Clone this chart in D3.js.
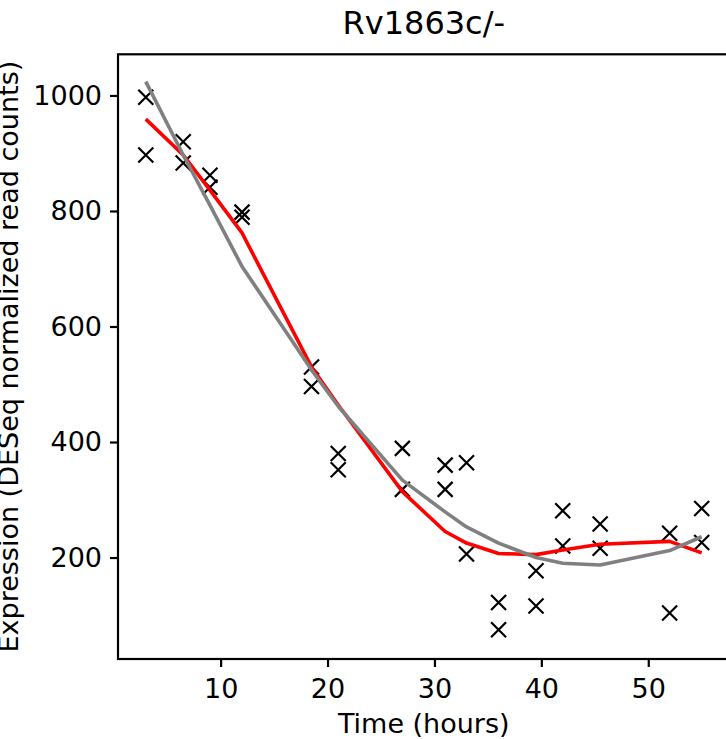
<!DOCTYPE html>
<html>
<head>
<meta charset="utf-8">
<script src="https://cdn.jsdelivr.net/npm/d3@7"></script>
<style>
  html, body { margin: 0; padding: 0; background: #fff; }
  svg { display: block; }
  text { font-family: "DejaVu Sans", sans-serif; fill: #000; }
</style>
</head>
<body>
<svg id="chart" width="726" height="739"></svg>
<script>
// ---- data ----
const times = [3, 6.5, 9, 12, 18.5, 21, 27, 31, 33, 36, 39.5, 42, 45.5, 52, 55];
const rep1  = [997, 920, 862, 798, 530, 380, 389, 360, 364, 122, 177, 281, 258, 242, 285];
const rep2  = [897, 883, 841, 789, 496, 352, 318, 318, 206, 75, 116, 220, 216, 104, 226];
const redFit  = [959, 897, 836, 762, 530, 464, 314, 245, 225, 207, 205, 213, 223, 228, 208];
const grayFit = [1024, 897, 810, 704, 525, 462, 334, 279, 253, 225, 200, 190, 187, 212, 236];
const xTicks = [10, 20, 30, 40, 50];
const yTicks = [200, 400, 600, 800, 1000];
const title = "Rv1863c/-";
const xLabel = "Time (hours)";
const yLabel = "Expression (DESeq normalized read counts)";

// ---- layout ----
const svg = d3.select("#chart");
const L = 118, R = 729.5, T = 54.3, B = 659;
const x = d3.scaleLinear().domain([0.4, 57.6]).range([L, R]);
const y = d3.scaleLinear().domain([24.3, 1071.3]).range([B, T]);

const points = [];
times.forEach((t, i) => {
  points.push({t: t, v: rep1[i]});
  points.push({t: t, v: rep2[i]});
});

// markers
const m = 7.5;
svg.append("g").selectAll("path.pt").data(points).enter().append("path")
  .attr("class", "pt")
  .attr("d", d => {
    const cx = x(d.t), cy = y(d.v);
    return `M${cx - m},${cy - m}L${cx + m},${cy + m}M${cx - m},${cy + m}L${cx + m},${cy - m}`;
  })
  .attr("stroke", "#000").attr("stroke-width", 2.2).attr("fill", "none");

const line = d3.line().x(d => x(d[0])).y(d => y(d[1]));
svg.append("path")
  .attr("d", line(times.map((t, i) => [t, redFit[i]])))
  .attr("stroke", "#ff0000").attr("stroke-width", 3.6).attr("fill", "none")
  .attr("stroke-linejoin", "round").attr("stroke-linecap", "butt");
svg.append("path")
  .attr("d", line(times.map((t, i) => [t, grayFit[i]])))
  .attr("stroke", "#808080").attr("stroke-width", 3.6).attr("fill", "none")
  .attr("stroke-linejoin", "round").attr("stroke-linecap", "butt");

// frame
svg.append("rect").attr("x", L).attr("y", T).attr("width", R - L).attr("height", B - T)
  .attr("fill", "none").attr("stroke", "#000").attr("stroke-width", 2.2);

// axes
const xAxis = d3.axisBottom(x).tickValues(xTicks).tickSize(8).tickPadding(12).tickFormat(d3.format("d"));
const gx = svg.append("g").attr("transform", `translate(0,${B})`).call(xAxis);
const yAxis = d3.axisLeft(y).tickValues(yTicks).tickSize(8).tickPadding(8).tickFormat(d3.format("d"));
const gy = svg.append("g").attr("transform", `translate(${L},0)`).call(yAxis);
[gx, gy].forEach(a => {
  a.select(".domain").remove();
  a.selectAll(".tick line").attr("stroke", "#000").attr("stroke-width", 2.2);
  a.selectAll(".tick text").attr("font-size", 27).attr("font-family", "DejaVu Sans").attr("fill", "#000");
});

// title and labels
svg.append("text").attr("x", (L + R) / 2).attr("y", 34).attr("text-anchor", "middle")
  .attr("font-size", 32).text(title);
svg.append("text").attr("x", (L + R) / 2).attr("y", 733).attr("text-anchor", "middle")
  .attr("font-size", 27).text(xLabel);
svg.append("text").attr("transform", `translate(18,${(T + B) / 2}) rotate(-90)`)
  .attr("text-anchor", "middle").attr("font-size", 27).text(yLabel);
</script>
</body>
</html>
